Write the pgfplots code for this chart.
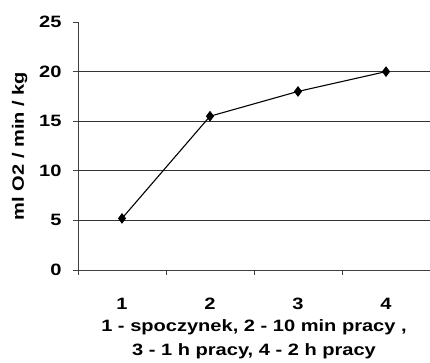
\documentclass[border=0pt]{standalone}
\usepackage{fontspec}
\setmainfont{Liberation Sans}[FakeStretch=1.22]
\usepackage{pgfplots}
\pgfplotsset{compat=1.18}
\begin{document}
\begin{tikzpicture}
\begin{axis}[
  at={(0,0)}, anchor=south west,
  scale only axis, width=352bp, height=248bp,
  xmin=0.5, xmax=4.5, ymin=0, ymax=25,
  axis x line*=bottom, axis y line*=left,
  axis line style={black!75, line width=0.8pt, -},
  xtick={1,2,3,4}, xticklabels={1,2,3,4},
  major x tick style={draw=none},
  minor xtick={0.5,1.5,2.5,3.5,4.5},
  minor x tick style={black!75, line width=0.8pt},
  ytick={0,5,...,25},
  tick align=outside,
  major tick length=5bp, minor tick length=5bp,
  y tick style={black!75, line width=0.8pt},
  extra y ticks={5,10,15,20}, extra y tick labels={},
  extra y tick style={ymajorgrids=true, major tick length=0pt},
  major grid style={black!80, line width=0.7pt},
  /pgf/number format/assume math mode=true,
  ticklabel style={font=\fontsize{16.5}{18}\selectfont\bfseries},
  yticklabel style={xshift=-8bp},
  xticklabel style={yshift=-20bp},
  xlabel={1 - spoczynek, 2 - 10 min pracy ,\\ 3 - 1 h pracy, 4 - 2 h pracy},
  xlabel style={align=center, font=\fontsize{16.5}{24}\selectfont\bfseries, yshift=-3bp},
  ylabel={ml O2 / min / kg},
  ylabel style={font=\fontsize{16.5}{18}\selectfont\bfseries, yshift=0bp},
  clip=false,
]
\addplot[black, line width=1.1pt, mark=diamond*, mark size=4.5bp, mark options={fill=black}]
  coordinates {(1,5.2) (2,15.5) (3,18) (4,20)};
\end{axis}
\pgfresetboundingbox
\path (-78bp,-93bp) rectangle (352bp,270bp);
\end{tikzpicture}
\end{document}
